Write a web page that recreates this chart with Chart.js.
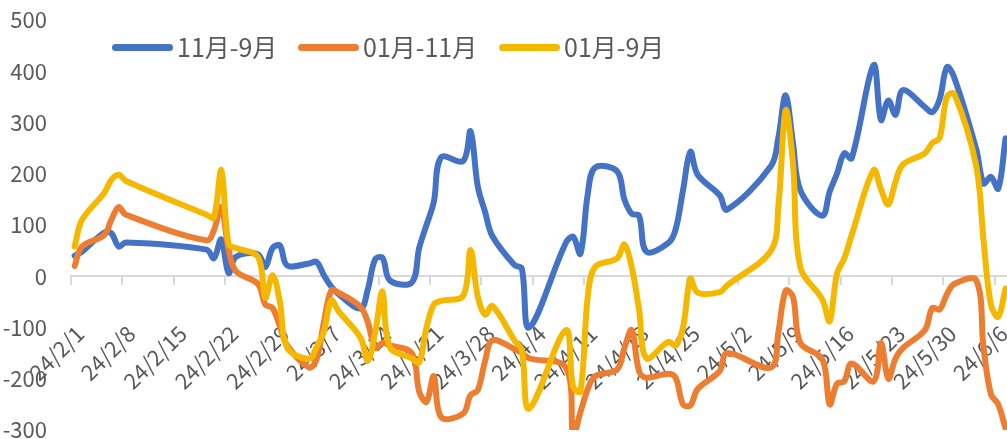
<!DOCTYPE html>
<html><head><meta charset="utf-8">
<script src="https://cdn.jsdelivr.net/npm/chart.js@4.4.1/dist/chart.umd.min.js"></script>
<style>
html,body{margin:0;padding:0;background:#fff;}
#wrap{position:relative;width:1007px;height:439px;overflow:hidden;}
canvas{position:absolute;left:0;top:0;}
.lg-bar{position:absolute;height:7px;border-radius:3.5px;top:43.5px;}
.lg-txt{position:absolute;top:30px;font-family:"Noto Sans CJK SC";font-size:25px;line-height:32px;color:#595959;white-space:nowrap;}
</style></head>
<body><div id="wrap"><canvas id="c" width="1007" height="439"></canvas><div id="legend"></div></div>
<script>
// trading days (2024)
const dates = ["2/1","2/2","2/5","2/6","2/7","2/8","2/19","2/20","2/21","2/22","2/23",
"2/26","2/27","2/28","2/29","3/1","3/4","3/5","3/6","3/7","3/8",
"3/11","3/12","3/13","3/14","3/15","3/18","3/19","3/20","3/21","3/22",
"3/25","3/26","3/27","3/28","3/29","4/1","4/2","4/3","4/8","4/9","4/10","4/11","4/12",
"4/15","4/16","4/17","4/18","4/19","4/22","4/23","4/24","4/25","4/26","4/29","4/30",
"5/6","5/7","5/8","5/9","5/10","5/13","5/14","5/15","5/16","5/17",
"5/20","5/21","5/22","5/23","5/24","5/27","5/28","5/29","5/30","5/31",
"6/3","6/4","6/5","6/6","6/7"];
const spread11_9 = [40,48,85,84,58,66,52,35,72,6,38,
43,18,55,60,21,25,28,2,-20,-35,
-63,-25,33,36,-8,-12,55,100,145,232,
225,283,175,125,78,22,15,-100,65,77,44,160,212,
205,150,122,118,48,65,92,168,243,198,158,130,
215,270,353,260,168,118,165,200,240,230,
412,305,343,315,363,330,320,345,408,388,
248,181,194,171,269];
const spread01_11 = [20,58,80,110,135,120,70,90,135,52,10,
-15,-55,-62,-98,-135,-178,-162,-90,-28,-32,
-60,-90,-140,-130,-135,-150,-225,-245,-195,-275,
-268,-232,-222,-165,-125,-142,-150,-160,-178,-310,-265,-220,-195,
-182,-140,-105,-185,-198,-190,-198,-250,-252,-220,-185,-150,
-178,-110,-28,-40,-130,-162,-250,-210,-205,-170,
-205,-130,-200,-160,-140,-105,-62,-65,-35,-15,
-8,-140,-230,-250,-297];
const spread01_9 = [58,110,162,188,198,186,120,115,207,62,55,
38,-42,2,-50,-140,-161,-138,-108,-47,-68,
-120,-165,-110,-30,-138,-160,-168,-100,-55,-48,
-38,51,-40,-75,-58,-125,-144,-258,-105,-215,-225,-40,18,
35,62,18,-65,-160,-128,-135,-100,-5,-32,-31,-18,
50,135,324,220,18,-45,-88,5,35,80,
207,170,140,185,218,240,260,270,350,356,
215,70,-55,-79,-24];
const seriesNames = ["11月-9月","01月-11月","01月-9月"];
const seriesColors = ["#4472C4","#ED7D31","#F5B800"];
const tickLabels = ["24/2/1","24/2/8","24/2/15","24/2/22","24/2/29","24/3/7","24/3/14","24/3/21",
"24/3/28","24/4/4","24/4/11","24/4/18","24/4/25","24/5/2","24/5/9","24/5/16","24/5/23","24/5/30","24/6/6"];
const yTicks = [-300,-200,-100,0,100,200,300,400,500];

const base = Date.UTC(2024,1,1);
function dayOf(md){ const p = md.split('/').map(Number); const m = p.length===3?p[1]:p[0]; const d = p.length===3?p[2]:p[1]; return (Date.UTC(2024,m-1,d)-base)/86400000; }
const xs = dates.map(d => dayOf(d) + 0.5);
const tickDays = tickLabels.map(dayOf);
const seriesValues = [spread11_9, spread01_11, spread01_9];

const font = "'Noto Sans CJK SC', 'Noto Sans', sans-serif";
const datasets = seriesValues.map((vals,i)=>({
  label: seriesNames[i],
  data: vals.map((v,j)=>({x: xs[j], y: v})),
  borderColor: seriesColors[i],
  backgroundColor: seriesColors[i],
  borderWidth: 6,
  pointRadius: 0,
  tension: 0.35,
  borderCapStyle: 'round',
  borderJoinStyle: 'round',
  clip: 0,
  order: 2 - i
}));

new Chart(document.getElementById('c'), {
  type: 'line',
  data: { datasets },
  options: {
    responsive: false,
    animation: false,
    events: [],
    layout: { padding: { top: 20, bottom: 9, left: 0, right: 0 } },
    plugins: { legend: { display: false }, tooltip: { enabled: false } },
    scales: {
      x: {
        type: 'linear', min: 0, max: 127.7, position: { y: 0 },
        afterBuildTicks: s => { s.ticks = tickDays.map(v => ({ value: v })); },
        afterFit: s => { s.height = 0; s.paddingLeft = 0; s.paddingRight = 0; },
        ticks: {
          autoSkip: false, minRotation: 45, maxRotation: 45, padding: 36, labelOffset: 9,
          color: '#595959', font: { family: font, size: 22 },
          callback: (v, i) => tickLabels[i]
        },
        grid: { drawOnChartArea: false, drawTicks: true, tickLength: 8, color: '#D9D9D9', lineWidth: 2 },
        border: { display: true, color: '#D9D9D9', width: 2 }
      },
      y: {
        min: -300, max: 500,
        afterBuildTicks: s => { s.ticks = yTicks.map(v => ({ value: v })); },
        afterFit: s => { s.width = 71; s.paddingTop = 0; s.paddingBottom = 0; },
        ticks: { color: '#595959', padding: 16, font: { family: font, size: 22 } },
        grid: { display: false },
        border: { display: false }
      }
    }
  }
});

// legend (HTML text)
const legendPos = [[112,61,177],[298,61,363],[499,61,564]];
const lg = document.getElementById('legend');
seriesNames.forEach((n,i)=>{
  const b = document.createElement('div');
  b.className = 'lg-bar';
  b.style.left = legendPos[i][0]+'px'; b.style.width = legendPos[i][1]+'px';
  b.style.background = seriesColors[i];
  lg.appendChild(b);
  const t = document.createElement('div');
  t.className = 'lg-txt';
  t.style.left = legendPos[i][2]+'px';
  t.textContent = n;
  lg.appendChild(t);
});
</script>
</body></html>
